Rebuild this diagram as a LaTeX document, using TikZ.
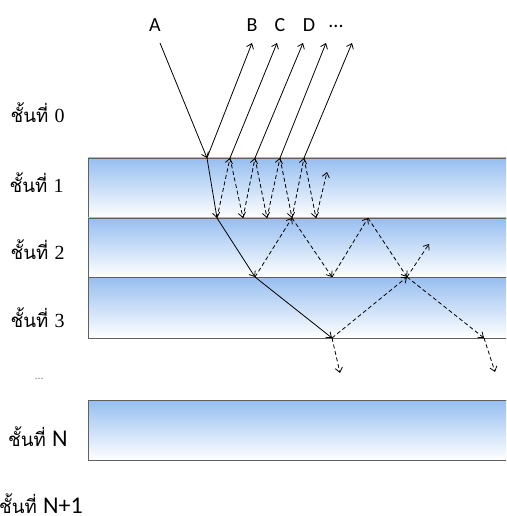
\documentclass[tikz,border=0pt]{standalone}
\usepackage{fontspec}
\setmainfont{Liberation Serif}
\newfontfamily\thaifont[Script=Thai]{Loma}
\newfontfamily\latinsans{Carlito}
\usetikzlibrary{arrows.meta}

\definecolor{layerblue}{RGB}{150,190,240}
\tikzset{
  layer/.style={draw=gray!75!black, line width=0.7pt, top color=layerblue, bottom color=white},
  ray/.style={-{Straight Barb[length=3.5pt,width=5.5pt]}, line width=0.6pt},
  wave/.style={ray, dash pattern=on 3pt off 2pt},
  lbl/.style={font=\thaifont\fontsize{14}{16}\selectfont, anchor=east, inner sep=0pt},
  letter/.style={font=\latinsans\fontsize{15}{17}\selectfont, inner sep=0pt},
}
\newcommand{\numtxt}[1]{{\rmfamily\fontsize{15}{17}\selectfont #1}}
\newcommand{\bigN}[1]{{\latinsans\fontsize{18}{20}\selectfont #1}}

\begin{document}
\begin{tikzpicture}[x=0.75pt,y=-0.75pt]
\useasboundingbox (0,0) rectangle (506,516);
\clip (0,0) rectangle (506,516);
% layers
\foreach \n/\ytop/\ybot in {1/158/218, 2/218/277, 3/277/338, N/400/460}
  \draw[layer] (88,\ytop) rectangle (512,\ybot);
% layer labels
\node[lbl] (l0) at (65,113) {ชั้นที่ \numtxt{0}};
\node[lbl] (l1) at (64,183) {ชั้นที่ \numtxt{1}};
\node[lbl] (l2) at (65,250) {ชั้นที่ \numtxt{2}};
\node[lbl] (l3) at (65,318) {ชั้นที่ \numtxt{3}};
\node[font=\rmfamily\small, text=gray] (ldots) at (39,379) {...};
\node[lbl] (lN) at (68,437) {ชั้นที่ \bigN{N}};
\node[lbl] (lN1) at (83,504) {ชั้นที่ \bigN{N+1}};
% ray letters
\node[letter] (A) at (155,25) {A};
\node[letter] (B) at (252,25) {B};
\node[letter] (C) at (280,25) {C};
\node[letter] (D) at (309,25) {D};
\node[letter] (more) at (336,26) {...};
% points of the paths
\coordinate (src) at (160,43);
\coordinate (p1) at (207,158);
\coordinate (p2) at (217,218);
\coordinate (p3) at (255,277);
\coordinate (p4) at (332,338);
\foreach \i/\x in {1/252,2/277,3/303,4/326,5/352}
  \coordinate (r\i) at (\x,43);
\foreach \i/\x in {1/230,2/255,3/280,4/304}
  \coordinate (t\i) at (\x,158);
\foreach \i/\x in {1/243,2/267,3/292,4/316}
  \coordinate (u\i) at (\x,218);
\coordinate (e1) at (327,172);
\coordinate (v1) at (332,277);
\coordinate (w1) at (368,218);
\coordinate (v2) at (407,277);
\coordinate (e2) at (429,244);
\coordinate (z1) at (484,338);
\coordinate (d1) at (340,373);
\coordinate (d2) at (495,372);
% incoming and refracted ray
\draw[ray] (src) -- (p1);
\draw[ray] (p1) -- (p2);
\draw[ray] (p2) -- (p3);
\draw[ray] (p3) -- (p4);
% rays going back up
\foreach \a/\b in {p1/r1, t1/r2, t2/r3, t3/r4, t4/r5}
  \draw[ray] (\a) -- (\b);
% bounces inside the layers
\foreach \a/\b in {p2/t1, t1/u1, u1/t2, t2/u2, u2/t3, t3/u3, u3/t4, t4/u4, u4/e1,
                   p3/u3, u3/v1, v1/w1, w1/v2, v2/e2,
                   p4/v2, v2/z1, p4/d1, z1/d2}
  \draw[wave] (\a) -- (\b);
\end{tikzpicture}
\end{document}
